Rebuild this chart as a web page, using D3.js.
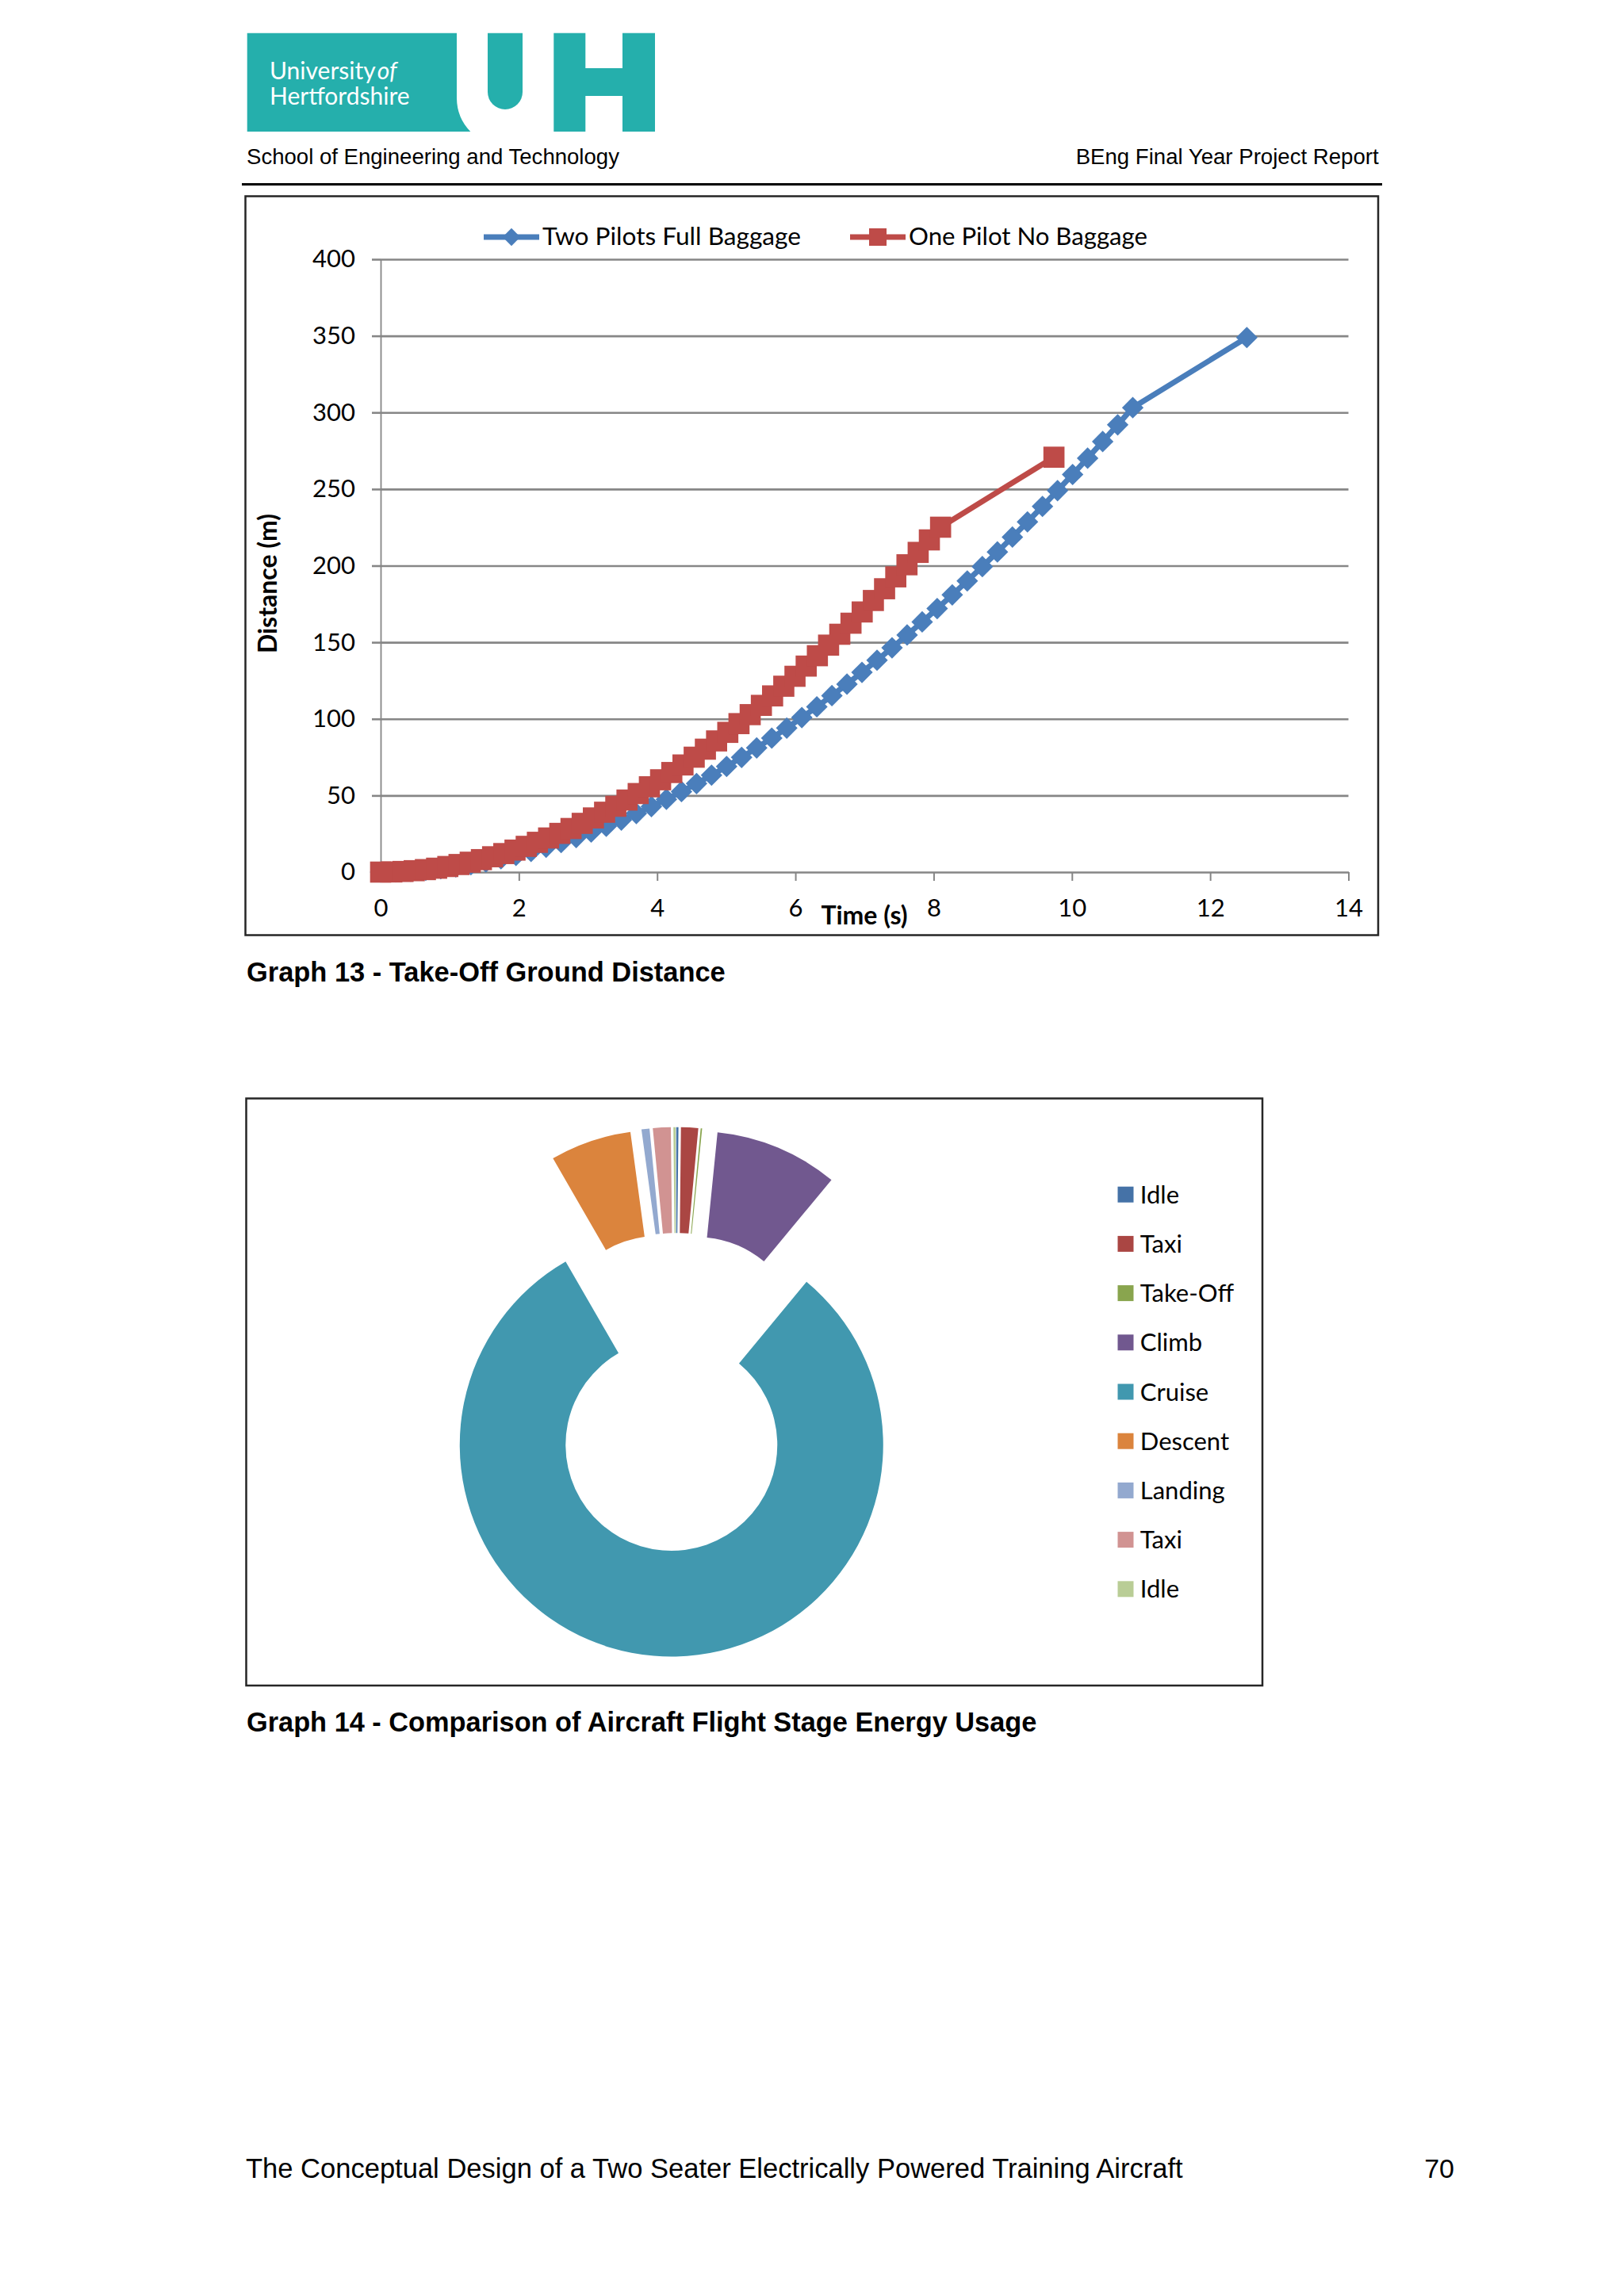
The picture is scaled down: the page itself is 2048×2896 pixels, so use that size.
<!DOCTYPE html>
<html><head><meta charset="utf-8">
<script src="https://cdn.jsdelivr.net/npm/d3@7"></script>
<style>html,body{margin:0;padding:0;background:#fff;} svg{display:block;}</style>
</head><body>
<svg id="page" width="2048" height="2896"></svg>
<script>
// ---------------- DATA ----------------
const seriesNames = ["Two Pilots Full Baggage", "One Pilot No Baggage"];
const twoPilotsTime = [0,0.218,0.435,0.653,0.870,1.088,1.306,1.523,1.741,1.958,2.176,2.394,2.611,2.829,3.046,3.264,3.482,3.699,3.917,4.134,4.352,4.570,4.787,5.005,5.222,5.440,5.658,5.875,6.093,6.310,6.528,6.746,6.963,7.181,7.398,7.616,7.834,8.051,8.269,8.486,8.704,8.922,9.139,9.357,9.574,9.792,10.010,10.227,10.445,10.662,10.880,12.53];
const twoPilotsDist = [0,0.14,0.55,1.23,2.19,3.41,4.90,6.65,8.67,10.93,13.47,16.27,19.30,22.60,26.14,29.94,33.97,38.24,42.78,47.53,52.54,57.79,63.25,68.96,74.88,81.06,87.46,94.02,100.87,107.90,115.19,122.69,130.37,138.30,146.40,154.75,163.31,172.03,180.92,190.04,199.40,208.96,218.66,228.60,238.69,249.01,259.52,270.16,281.04,291.93,303.15,348.9];
const onePilotTime = [0,0.162,0.324,0.486,0.648,0.810,0.972,1.134,1.296,1.458,1.620,1.782,1.944,2.106,2.268,2.430,2.592,2.754,2.916,3.078,3.240,3.402,3.564,3.726,3.888,4.050,4.212,4.374,4.536,4.698,4.860,5.022,5.184,5.346,5.508,5.670,5.832,5.994,6.156,6.318,6.480,6.642,6.804,6.966,7.128,7.290,7.452,7.614,7.776,7.938,8.100,9.74];
const onePilotDist = [0,0.10,0.41,0.92,1.63,2.54,3.65,4.95,6.45,8.14,10.02,12.10,14.36,16.81,19.45,22.27,25.27,28.46,31.82,35.36,39.08,42.97,47.04,51.27,55.69,60.26,65.00,69.93,75.00,80.23,85.62,91.20,96.91,102.77,108.82,115.00,121.32,127.80,134.46,141.23,148.14,155.24,162.45,169.79,177.27,184.94,192.70,200.59,208.67,216.82,225.11,270.8];
const xTickValues = [0,2,4,6,8,10,12,14];
const yTickValues = [0,50,100,150,200,250,300,350,400];
const stageLabels = ["Idle","Taxi","Take-Off","Climb","Cruise","Descent","Landing","Taxi","Idle"];
const stageEnergy = [0.17,1.31,0.11,9.42,80.67,6.19,0.61,1.36,0.17];
const stageColors = ["#4572A7","#AA4643","#89A54E","#71588F","#4198AF","#DB843D","#93A9CF","#D19392","#B9CD96"];

// ---------------- SETUP ----------------
const svg = d3.select("#page");
const FONT = "Lato, 'Open Sans', sans-serif";
const ARIAL = "'Liberation Sans', Arial, sans-serif";
const teal = "#25AFAC";

function fitWidth(sel, w){
  const cur = sel.node().getComputedTextLength();
  const fs = parseFloat(sel.attr("font-size"));
  if (cur > 0) sel.attr("font-size", (fs * w / cur).toFixed(2));
  return sel;
}

// ---------------- HEADER / LOGO ----------------
const logo = svg.append("g");
logo.append("path").attr("fill", teal)
  .attr("d", "M311.7,41.7 H576 V124 A61,61 0 0 0 593.3,166 H311.7 Z");
logo.append("path").attr("fill", teal)
  .attr("d", "M615,41.7 V116 A22,22 0 0 0 659,116 V41.7 Z");
logo.append("rect").attr("fill", teal).attr("x", 698.3).attr("y", 41.7).attr("width", 40).attr("height", 124.3);
logo.append("rect").attr("fill", teal).attr("x", 738).attr("y", 86).attr("width", 47.5).attr("height", 35);
logo.append("rect").attr("fill", teal).attr("x", 785).attr("y", 41.7).attr("width", 41).attr("height", 124.3);
const l1 = logo.append("text").attr("x", 340).attr("y", 100).attr("fill", "#fff")
  .attr("font-family", FONT).attr("font-size", 30);
l1.append("tspan").text("University");
l1.append("tspan").attr("dx", 2).attr("font-style", "italic").text("of");
logo.append("text").attr("x", 340).attr("y", 131.7).attr("fill", "#fff")
  .attr("font-family", FONT).attr("font-size", 30).text("Hertfordshire");

const h1 = svg.append("text").attr("x", 311).attr("y", 206.5).attr("font-family", ARIAL)
  .attr("font-size", 27).attr("fill", "#000").text("School of Engineering and Technology");
fitWidth(h1, 470);
const h2 = svg.append("text").attr("x", 1738.6).attr("y", 206.5).attr("text-anchor", "end").attr("font-family", ARIAL)
  .attr("font-size", 27).attr("fill", "#000").text("BEng Final Year Project Report");
fitWidth(h2, 382);
svg.append("line").attr("x1", 305).attr("x2", 1743).attr("y1", 232.5).attr("y2", 232.5)
  .attr("stroke", "#000").attr("stroke-width", 3);

// ---------------- CHART 1 : LINE ----------------
const c1 = svg.append("g");
c1.append("rect").attr("x", 309.5).attr("y", 247.5).attr("width", 1428.5).attr("height", 932)
  .attr("fill", "#fff").attr("stroke", "#262626").attr("stroke-width", 2.5);

const x = d3.scaleLinear().domain([0, 14]).range([480, 1700.5]);
const y = d3.scaleLinear().domain([0, 400]).range([1100, 327]);

// gridlines
c1.append("g").attr("transform", "translate(480,0)")
  .call(d3.axisLeft(y).tickValues(yTickValues.filter(v => v > 0)).tickSize(-(1700.5 - 480)).tickFormat(""))
  .call(g => g.select(".domain").remove())
  .call(g => g.selectAll("line").attr("stroke", "#868686").attr("stroke-width", 2.6));

// left axis
const ya = c1.append("g").attr("transform", "translate(480,0)")
  .call(d3.axisLeft(y).tickValues(yTickValues).tickSize(11).tickSizeOuter(0).tickPadding(21));
ya.select(".domain").attr("stroke", "#868686").attr("stroke-width", 1.8);
ya.selectAll(".tick line").attr("stroke", "#868686").attr("stroke-width", 2.6);
ya.selectAll(".tick text").attr("font-family", FONT).attr("font-size", 31).attr("fill", "#000");

// bottom axis
const xa = c1.append("g").attr("transform", "translate(0,1100)")
  .call(d3.axisBottom(x).tickValues(xTickValues).tickSize(11).tickSizeOuter(0).tickPadding(23));
xa.select(".domain").attr("stroke", "#868686").attr("stroke-width", 2.6);
xa.selectAll(".tick line").attr("stroke", "#868686").attr("stroke-width", 2);
xa.selectAll(".tick text").attr("font-family", FONT).attr("font-size", 31).attr("fill", "#000");

// axis titles
c1.append("text").attr("x", 1090).attr("y", 1166).attr("text-anchor", "middle")
  .attr("font-family", FONT).attr("font-weight", "bold").attr("font-size", 32).text("Time (s)");
c1.append("text").attr("transform", "translate(349,736) rotate(-90)").attr("text-anchor", "middle")
  .attr("font-family", FONT).attr("font-weight", "bold").attr("font-size", 32).text("Distance (m)");

// series
const blue = "#4A7EBB", red = "#BE4B48";
const bluePts = twoPilotsTime.map((t, i) => [t, twoPilotsDist[i]]);
const redPts = onePilotTime.map((t, i) => [t, onePilotDist[i]]);
const line = d3.line().x(d => x(d[0])).y(d => y(d[1]));
const diamond = d3.symbol().type(d3.symbolSquare).size(370);
const square = d3.symbol().type(d3.symbolSquare).size(710);

c1.append("path").datum(bluePts).attr("d", line).attr("fill", "none").attr("stroke", blue)
  .attr("stroke-width", 7).attr("stroke-linejoin", "round");
c1.append("g").selectAll("path").data(bluePts).join("path")
  .attr("d", diamond).attr("fill", blue)
  .attr("transform", d => `translate(${x(d[0])},${y(d[1])}) rotate(45)`);

c1.append("path").datum(redPts).attr("d", line).attr("fill", "none").attr("stroke", red)
  .attr("stroke-width", 7).attr("stroke-linejoin", "round");
c1.append("g").selectAll("path").data(redPts).join("path")
  .attr("d", square).attr("fill", red)
  .attr("transform", d => `translate(${x(d[0])},${y(d[1])})`);

// legend
const leg = c1.append("g");
const legItems = [
  {name: seriesNames[0], color: blue, x0: 610, sym: d3.symbol().type(d3.symbolSquare).size(250), rot: 45, tx: 684, w: 326},
  {name: seriesNames[1], color: red, x0: 1072, sym: d3.symbol().type(d3.symbolSquare).size(484), rot: 0, tx: 1146, w: 301}
];
legItems.forEach(it => {
  leg.append("line").attr("x1", it.x0).attr("x2", it.x0 + 70).attr("y1", 299).attr("y2", 299)
    .attr("stroke", it.color).attr("stroke-width", 7);
  leg.append("path").attr("d", it.sym).attr("fill", it.color)
    .attr("transform", `translate(${it.x0 + 35},299) rotate(${it.rot})`);
  const t = leg.append("text").attr("x", it.tx).attr("y", 309).attr("font-family", FONT).attr("font-size", 31.5)
    .attr("fill", "#000").text(it.name);
  fitWidth(t, it.w);
});

const cap1 = svg.append("text").attr("x", 311).attr("y", 1238).attr("font-family", ARIAL)
  .attr("font-weight", "bold").attr("font-size", 34).text("Graph 13 - Take-Off Ground Distance");
fitWidth(cap1, 604);

// ---------------- CHART 2 : DOUGHNUT ----------------
const c2 = svg.append("g");
c2.append("rect").attr("x", 310.5).attr("y", 1385.5).attr("width", 1281.5).attr("height", 740.5)
  .attr("fill", "#fff").attr("stroke", "#262626").attr("stroke-width", 2.5);

const cx = 852.4, cy = 1755.7, R = 267, r0 = 133.5, explode = 67;
const pie = d3.pie().sort(null).value(d => d).startAngle(0).endAngle(2 * Math.PI);
const arcs = pie(stageEnergy);
const arc = d3.arc().innerRadius(r0).outerRadius(R);
c2.append("g").selectAll("path").data(arcs).join("path")
  .attr("d", arc)
  .attr("fill", (d, i) => stageColors[i])
  .attr("transform", d => {
    const m = (d.startAngle + d.endAngle) / 2;
    return `translate(${cx + explode * Math.sin(m)},${cy - explode * Math.cos(m)})`;
  });

// legend
const pl = c2.append("g");
stageLabels.forEach((lab, i) => {
  const yc = 1506.7 + i * 62.2;
  pl.append("rect").attr("x", 1409.5).attr("y", yc - 10).attr("width", 20).attr("height", 20)
    .attr("fill", stageColors[i]);
  pl.append("text").attr("x", 1437.8).attr("y", yc + 11).attr("font-family", FONT).attr("font-size", 31)
    .attr("fill", "#000").text(lab);
});

const cap2 = svg.append("text").attr("x", 311).attr("y", 2184).attr("font-family", ARIAL)
  .attr("font-weight", "bold").attr("font-size", 34).text("Graph 14 - Comparison of Aircraft Flight Stage Energy Usage");
fitWidth(cap2, 997);

// ---------------- FOOTER ----------------
const f1 = svg.append("text").attr("x", 310).attr("y", 2747).attr("font-family", ARIAL)
  .attr("font-size", 34).text("The Conceptual Design of a Two Seater Electrically Powered Training Aircraft");
fitWidth(f1, 1182);
svg.append("text").attr("x", 1834).attr("y", 2747).attr("text-anchor", "end").attr("font-family", ARIAL)
  .attr("font-size", 34).text("70");
</script>
</body></html>
